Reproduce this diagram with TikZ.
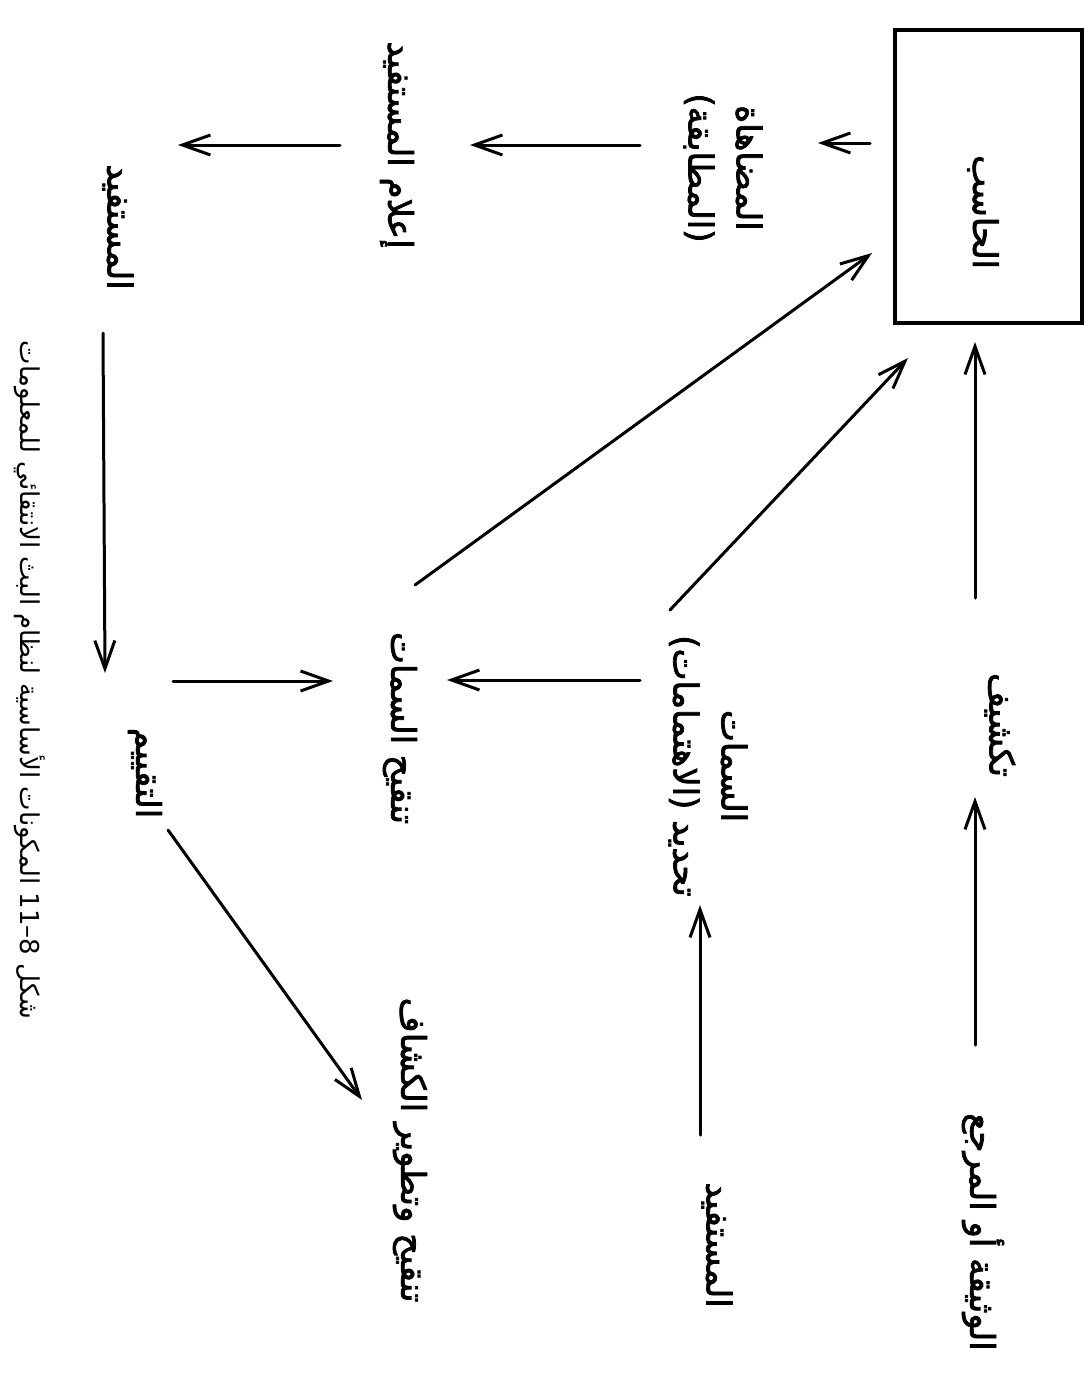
\documentclass[tikz,border=0pt]{standalone}
\usepackage{fontspec}
\usetikzlibrary{arrows.meta}
\TeXXeTstate=1
\newfontfamily\arabicfont[Script=Arabic]{DejaVu Sans}
\newfontfamily\arabicbold[Script=Arabic,FakeBold=2.2]{DejaVu Sans}
\tikzset{
  lab/.style={font=\arabicbold\fontsize{17}{24}\selectfont, rotate=-90, inner sep=0pt, outer sep=0pt, align=center},
  capst/.style={font=\arabicfont\fontsize{13}{16}\selectfont, rotate=-90, inner sep=0pt},
  arr/.style={line width=1.5pt, line cap=round, -{Straight Barb[length=14pt,width=10pt,line width=1.5pt]}},
  boxst/.style={draw, line width=2.2pt, minimum width=93.5pt, minimum height=146.5pt, inner sep=0pt},
}
\begin{document}
\begin{tikzpicture}[x=0.5pt,y=-0.5pt]
\fill[white] (0,0) rectangle (1091,1376);
\useasboundingbox (0,0) rectangle (1091,1376);

% nodes
\node[boxst] (box) at (988.5,176.5) {};
\node[lab] (boxt) at (983,212) {\beginR الحاسب\endR};
\node[lab] (index) at (1000,725) {\beginR تكشيف\endR};
\node[lab] (doc) at (983,1232) {\beginR الوثيقة أو المرجع\endR};
\node[lab] (mat) at (723,168) {\beginR المضاهاة\endR\\\beginR (المطابقة)\endR};
\node[lab] (notify) at (397,145) {\beginR إعلام المستفيد\endR};
\node[lab] (user1) at (118,227) {\beginR المستفيد\endR};
\node[lab] (prof) at (708,766) {\beginR السمات\endR\\\beginR تحديد (الاهتمامات)\endR};
\node[lab] (revprof) at (400,728) {\beginR تنقيح السمات\endR};
\node[lab] (eval) at (145,773) {\beginR التقييم\endR};
\node[lab] (user2) at (717,1245) {\beginR المستفيد\endR};
\node[lab] (revidx) at (410,1150) {\beginR تنقيح وتطوير الكشاف\endR};
\node[capst] (caption) at (30,680) {\beginR شكل 8–11 المكونات الأساسية لنظام البث الانتقائي للمعلومات\endR};

% connectors
\draw[arr] ([shift={(-8,-187)}]doc.center) -- ([shift={(-25,72)}]index.center);
\draw[arr] ([shift={(-25,-127)}]index.center) -- ([shift={(-13.5,165.5)}]box.center);
\draw[arr] ([shift={(-118.5,-33.5)}]box.center) -- ([shift={(95,-25)}]mat.center);
\draw[arr] ([shift={(-83,-23)}]mat.center) -- ([shift={(73,0)}]notify.center);
\draw[arr] ([shift={(-57,0)}]notify.center) -- ([shift={(60,-82)}]user1.center);
\draw[arr] ([shift={(-15,106)}]user1.center) -- ([shift={(-40,-100)}]eval.center);
\draw[arr] ([shift={(28,-92)}]eval.center) -- ([shift={(-67,-47)}]revprof.center);
\draw[arr] ([shift={(-68,-86)}]prof.center) -- ([shift={(47,-48)}]revprof.center);
\draw[arr] ([shift={(15,-143)}]revprof.center) -- ([shift={(-116.5,76.5)}]box.center);
\draw[arr] ([shift={(-38,-156)}]prof.center) -- ([shift={(-80.5,181.5)}]box.center);
\draw[arr] ([shift={(-17,-110)}]user2.center) -- ([shift={(-8,139)}]prof.center);
\draw[arr] ([shift={(23,57)}]eval.center) -- ([shift={(-48,-50)}]revidx.center);
\end{tikzpicture}
\end{document}
